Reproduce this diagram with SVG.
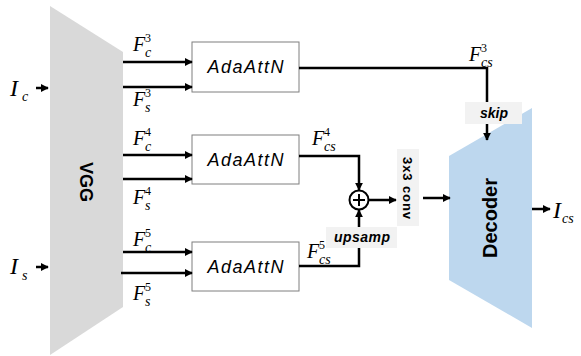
<svg xmlns="http://www.w3.org/2000/svg" width="581" height="356" viewBox="0 0 581 356">
<defs>
<marker id="ah" viewBox="0 0 10 10" refX="9" refY="5" markerWidth="3.2" markerHeight="3.2" orient="auto" markerUnits="strokeWidth">
<path d="M0,0 L10,5 L0,10 z" fill="#000"/>
</marker>
<style>
.ln{fill:none;stroke:#000;stroke-width:2.5}
.ar{fill:none;stroke:#000;stroke-width:2.5;marker-end:url(#ah)}
.box{fill:#fff;stroke:#7f7f7f;stroke-width:1}
.ada{font-family:"Liberation Sans",Arial,sans-serif;font-style:italic;font-size:18px;fill:#000}
.m{font-family:"Liberation Serif","Times New Roman",serif;font-style:italic;font-size:20px;fill:#000}
.mb{font-family:"Liberation Serif","Times New Roman",serif;font-style:italic;font-size:24px;fill:#000}
.sup{font-family:"Liberation Serif","Times New Roman",serif;font-size:12px;fill:#000}
.sub{font-family:"Liberation Serif","Times New Roman",serif;font-style:italic;font-size:14px;fill:#000}
.lbl{fill:#f2f2f2}
.bi{font-family:"Liberation Sans",Arial,sans-serif;font-weight:bold;font-style:italic;font-size:14px;fill:#000}
.b{font-family:"Liberation Sans",Arial,sans-serif;font-weight:bold;fill:#000}
</style>
</defs>

<g id="vgg">
<polygon points="50,6 123,52 123,307 50,355" fill="#d9d9d9"/>
<text class="b" font-size="18" transform="translate(80,182) rotate(90)" text-anchor="middle">VGG</text>
</g>

<g id="decoder">
<polygon points="449,156 532,108 532,328 449,280" fill="#bdd7ee"/>
<text class="b" font-size="20" transform="translate(497,218) rotate(-90)" text-anchor="middle">Decoder</text>
</g>

<g id="adaattn3">
<rect class="box" x="192" y="42" width="107" height="50"/>
<text class="ada" x="245.5" y="73" text-anchor="middle" textLength="76">AdaAttN</text>
</g>
<g id="adaattn4">
<rect class="box" x="192" y="135" width="107" height="49"/>
<text class="ada" x="245.5" y="166" text-anchor="middle" textLength="76">AdaAttN</text>
</g>
<g id="adaattn5">
<rect class="box" x="192" y="242" width="107" height="49"/>
<text class="ada" x="245.5" y="273" text-anchor="middle" textLength="76">AdaAttN</text>
</g>

<g id="connectors">
<line class="ar" x1="36" y1="88" x2="48" y2="88"/>
<line class="ar" x1="36" y1="267" x2="48" y2="267"/>
<line class="ar" x1="123" y1="62" x2="192" y2="62"/>
<line class="ar" x1="123" y1="87" x2="192" y2="87"/>
<line class="ar" x1="123" y1="155" x2="192" y2="155"/>
<line class="ar" x1="123" y1="179" x2="192" y2="179"/>
<line class="ar" x1="123" y1="252" x2="192" y2="252"/>
<line class="ar" x1="121" y1="273" x2="192" y2="273"/>
<polyline class="ar" points="299,68 487,68 487,140"/>
<polyline class="ar" points="299,156 359,156 359,190"/>
<polyline class="ar" points="299,266 359,266 359,210"/>
<line class="ar" x1="369" y1="200" x2="396" y2="200"/>
<line class="ar" x1="423" y1="198" x2="450" y2="198"/>
<line class="ar" x1="532" y1="209" x2="550" y2="209"/>
</g>

<g id="sum">
<circle cx="359" cy="200" r="9.5" fill="#fff" stroke="#000" stroke-width="2"/>
<line x1="353" y1="200" x2="365" y2="200" stroke="#000" stroke-width="2"/>
<line x1="359" y1="194" x2="359" y2="206" stroke="#000" stroke-width="2"/>
</g>

<g id="skip">
<rect class="lbl" x="465" y="102" width="57" height="22"/>
<text class="bi" x="494" y="118" text-anchor="middle">skip</text>
</g>
<g id="upsamp">
<rect class="lbl" x="326" y="227" width="71" height="21"/>
<text class="bi" x="362" y="242" text-anchor="middle" textLength="56">upsamp</text>
</g>
<g id="conv">
<rect class="lbl" x="397" y="149" width="22" height="77"/>
<text class="b" font-size="13" transform="translate(403,188) rotate(90)" text-anchor="middle" textLength="62">3x3 conv</text>
</g>

<g id="labels">
<text class="mb" x="10" y="96">I</text><text class="sub" x="22" y="101">c</text>
<text class="mb" x="10" y="274">I</text><text class="sub" x="22" y="280">s</text>
<text class="mb" x="553" y="218">I</text><text class="sub" x="562" y="223">cs</text>

<text class="m" x="133" y="51">F</text><text class="sup" x="145" y="42">3</text><text class="sub" x="145" y="57">c</text>
<text class="m" x="133" y="106">F</text><text class="sup" x="145" y="97">3</text><text class="sub" x="145" y="112">s</text>
<text class="m" x="133" y="145">F</text><text class="sup" x="145" y="136">4</text><text class="sub" x="145" y="151">c</text>
<text class="m" x="133" y="204">F</text><text class="sup" x="145" y="195">4</text><text class="sub" x="145" y="210">s</text>
<text class="m" x="133" y="246">F</text><text class="sup" x="145" y="237">5</text><text class="sub" x="145" y="252">c</text>
<text class="m" x="133" y="300">F</text><text class="sup" x="145" y="291">5</text><text class="sub" x="145" y="306">s</text>

<text class="m" x="469" y="61">F</text><text class="sup" x="481" y="52">3</text><text class="sub" x="481" y="67">cs</text>
<text class="m" x="312" y="145">F</text><text class="sup" x="324" y="136">4</text><text class="sub" x="324" y="151">cs</text>
<text class="m" x="307" y="258">F</text><text class="sup" x="319" y="249">5</text><text class="sub" x="319" y="264">cs</text>
</g>
</svg>
